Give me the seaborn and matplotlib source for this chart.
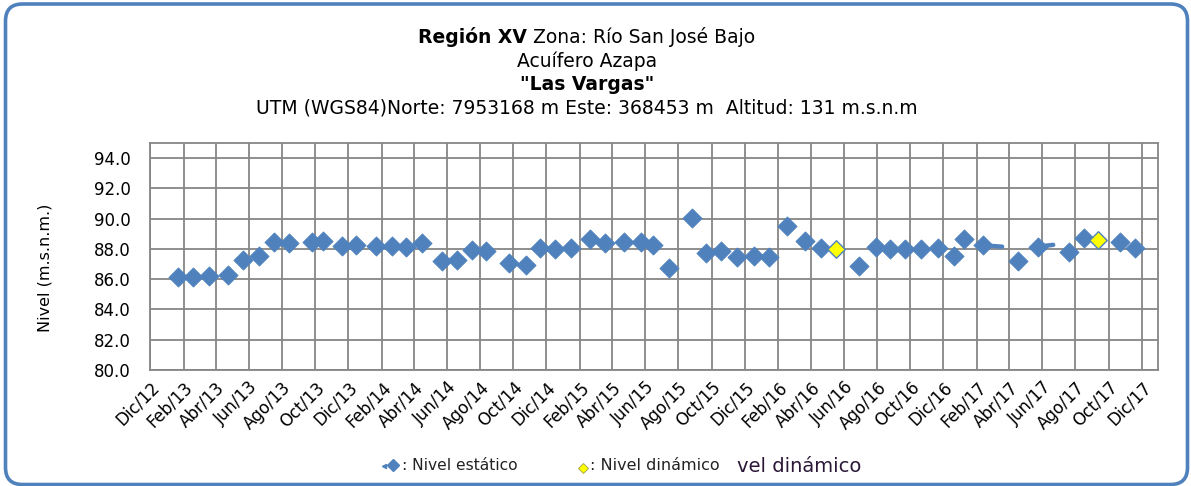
import matplotlib
matplotlib.use("Agg")
import matplotlib.pyplot as plt
import matplotlib.transforms as mtransforms
from matplotlib.patches import FancyBboxPatch
from matplotlib.lines import Line2D
import seaborn as sns
import pandas as pd

# ---------------- data ----------------
static_dates = [
    "2013-01-22", "2013-02-19", "2013-03-20", "2013-04-24", "2013-05-22",
    "2013-06-19", "2013-07-17", "2013-08-14", "2013-09-25", "2013-10-15",
    "2013-11-19", "2013-12-15", "2014-01-21", "2014-02-20", "2014-03-18",
    "2014-04-15", "2014-05-23", "2014-06-19", "2014-07-17", "2014-08-12",
    "2014-09-23", "2014-10-24", "2014-11-19", "2014-12-16", "2015-01-15",
    "2015-02-19", "2015-03-19", "2015-04-23", "2015-05-24", "2015-06-16",
    "2015-07-15", "2015-08-26", "2015-09-21", "2015-10-19", "2015-11-17",
    "2015-12-19", "2016-01-14", "2016-02-16", "2016-03-21", "2016-04-19",
    "2016-06-29", "2016-07-29", "2016-08-25", "2016-09-21", "2016-10-20",
    "2016-11-21", "2016-12-21", "2017-01-08", "2017-02-11", "2017-04-17",
    "2017-05-24", "2017-07-20", "2017-08-17", "2017-10-22", "2017-11-19",
]
static_values = [
    86.15, 86.17, 86.20, 86.30, 87.27,
    87.55, 88.44, 88.40, 88.44, 88.55,
    88.20, 88.27, 88.17, 88.20, 88.15,
    88.40, 87.17, 87.30, 87.93, 87.85,
    87.04, 86.95, 88.04, 88.00, 88.04,
    88.67, 88.37, 88.49, 88.49, 88.27,
    86.77, 90.02, 87.73, 87.87, 87.50,
    87.53, 87.44, 89.49, 88.53, 88.09,
    86.84, 88.10, 87.98, 88.00, 88.02,
    88.04, 87.53, 88.64, 88.24, 87.22,
    88.15, 87.77, 88.71, 88.49, 88.07,
]

dynamic_dates = ["2016-05-18", "2017-09-12"]
dynamic_values = [88.02, 88.56]

# short line fragments visible in the original chart
segment_dates = [["2017-02-11", "2017-03-19"], ["2017-05-24", "2017-06-21"]]
segment_values = [[88.24, 88.15], [88.15, 88.27]]

month_abbr = ["Ene", "Feb", "Mar", "Abr", "May", "Jun",
              "Jul", "Ago", "Sep", "Oct", "Nov", "Dic"]

title_bold = "Región XV"
title_rest = " Zona: Río San José Bajo"
title_line2 = "Acuífero Azapa"
title_line3 = "\"Las Vargas\""
title_line4 = "UTM (WGS84)Norte: 7953168 m Este: 368453 m  Altitud: 131 m.s.n.m"
y_label = "Nivel (m.s.n.m.)"
legend_static = ": Nivel estático"
legend_dynamic = ": Nivel dinámico"
legend_extra = "vel dinámico"

# ---------------- style ----------------
sns.set_theme(style="white")
plt.rcParams["font.family"] = ["DejaVu Sans"]
plt.rcParams["text.color"] = "black"
plt.rcParams["axes.labelcolor"] = "black"
plt.rcParams["xtick.color"] = "black"
plt.rcParams["ytick.color"] = "black"

BLUE = "#4F81BD"
GRID = "#868686"

W, H = 1191, 486
fig = plt.figure(figsize=(W / 100, H / 100), dpi=100)
fig.patch.set_facecolor("white")

ax = fig.add_axes([150 / W, 1 - 370 / H, (1158 - 150) / W, (370 - 143) / H])

df_s = pd.DataFrame({"fecha": pd.to_datetime(static_dates), "nivel": static_values})
df_d = pd.DataFrame({"fecha": pd.to_datetime(dynamic_dates), "nivel": dynamic_values})

for sd, sv in zip(segment_dates, segment_values):
    seg = pd.DataFrame({"fecha": pd.to_datetime(sd), "nivel": sv})
    sns.lineplot(data=seg, x="fecha", y="nivel", ax=ax, color=BLUE, lw=3.2,
                 solid_capstyle="round", zorder=3, legend=False)

sns.scatterplot(data=df_s, x="fecha", y="nivel", ax=ax, marker="D", s=95,
                color=BLUE, edgecolor=BLUE, linewidth=0.6, zorder=4, legend=False)
sns.scatterplot(data=df_d, x="fecha", y="nivel", ax=ax, marker="D", s=80,
                color="#FFFF00", edgecolor=BLUE, linewidth=1.0, zorder=5, legend=False)

# axes limits & ticks
ax.set_ylim(80, 95)
ax.set_yticks([80, 82, 84, 86, 88, 90, 92, 94])
ax.yaxis.set_major_formatter(matplotlib.ticker.FormatStrFormatter("%.1f"))
ax.set_xlim(pd.Timestamp("2012-12-01"), pd.Timestamp("2017-12-31"))
tick_dates = pd.date_range("2012-12-01", "2017-12-01", freq="2MS")
ax.set_xticks(tick_dates)
ax.set_xticklabels([f"{month_abbr[d.month - 1]}/{d.year % 100:02d}" for d in tick_dates],
                   rotation=45, ha="right", rotation_mode="anchor", fontsize=12)
ax.tick_params(axis="x", length=0, pad=6, labelcolor="black")
ax.tick_params(axis="y", length=6, width=1.2, color=GRID, pad=8, labelsize=12,
               labelcolor="black")

ax.grid(True, color=GRID, lw=1.3)
for sp in ax.spines.values():
    sp.set_color(GRID)
    sp.set_linewidth(1.3)
ax.set_xlabel("")
ax.set_ylabel(y_label, fontsize=11.5)
ax.yaxis.set_label_coords((53 - 150) / (1158 - 150), 0.45)
ax.set_axisbelow(True)

# ---------------- titles ----------------
fig.canvas.draw()
renderer = fig.canvas.get_renderer()
cx = 587 / W
TS = 13.5
t1 = fig.text(0, 1 - 37 / H, title_bold, fontsize=TS, fontweight="bold", va="center", ha="left")
t2 = fig.text(0, 1 - 37 / H, title_rest, fontsize=TS, va="center", ha="left")
w1 = t1.get_window_extent(renderer).width
w2 = t2.get_window_extent(renderer).width
x0 = 587 - (w1 + w2) / 2
t1.set_x(x0 / W)
t2.set_x((x0 + w1) / W)
fig.text(cx, 1 - 61 / H, title_line2, fontsize=TS, va="center", ha="center")
fig.text(cx, 1 - 84 / H, title_line3, fontsize=TS, fontweight="bold", va="center", ha="center")
fig.text(cx, 1 - 108 / H, title_line4, fontsize=TS, va="center", ha="center")

# ---------------- legend ----------------
LY = 1 - 465 / H
fig.add_artist(Line2D([393 / W], [LY], marker="D", ms=6, color=BLUE,
                      mec=BLUE, transform=fig.transFigure, ls="none"))
fig.add_artist(Line2D([384 / W], [1 - 466 / H], marker="<", ms=3, color=BLUE,
                      mec=BLUE, transform=fig.transFigure, ls="none"))
fig.text(402 / W, LY, legend_static, fontsize=11.2, va="center", ha="left", color="#222222")
fig.add_artist(Line2D([583 / W], [1 - 468 / H], marker="D", ms=5.5, color="#FFFF00",
                      mec="#A0A040", mew=0.6, transform=fig.transFigure, ls="none"))
fig.text(590 / W, LY, legend_dynamic, fontsize=11.5, va="center", ha="left", color="#222222")
fig.text(737 / W, 1 - 466 / H, legend_extra, fontsize=14, va="center", ha="left", color="#2b1838")

# ---------------- outer rounded frame ----------------
frame = FancyBboxPatch((5.5, 1.5), 1182, 480.5,
                       boxstyle="round,pad=0,rounding_size=17",
                       transform=mtransforms.IdentityTransform(),
                       fill=False, edgecolor=BLUE, linewidth=2.6, zorder=10)
fig.add_artist(frame)

fig.savefig("out.png", dpi=100)
